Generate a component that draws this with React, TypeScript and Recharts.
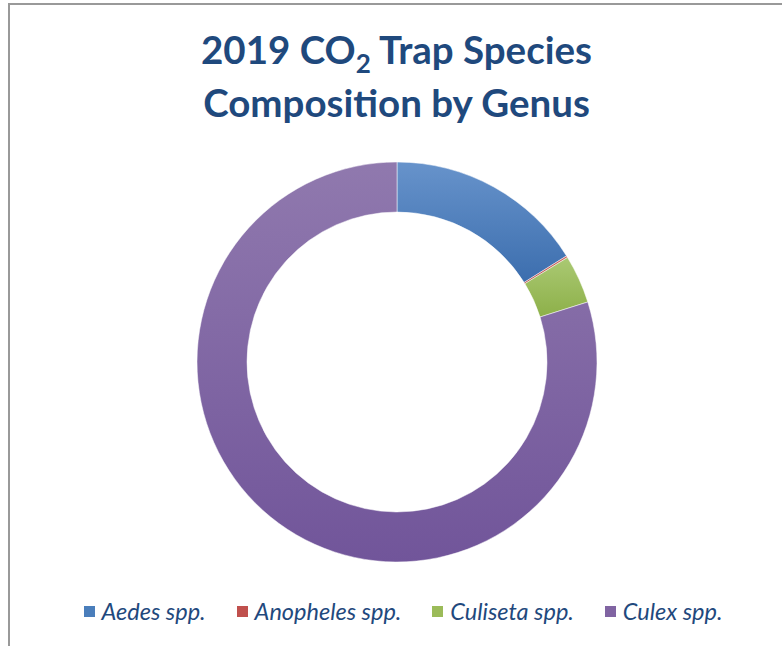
import { PieChart, Pie, Cell } from "recharts";

const GENERA = ["Aedes spp.", "Anopheles spp.", "Culiseta spp.", "Culex spp."];
const SHARES = [16.1, 0.15, 3.9, 79.85];
const COLORS = ["#4a7ebb", "#c0504d", "#9bbb59", "#8064a2"];
const LIGHT = ["#6793cb", "#d06a66", "#aac973", "#9079ae"];
const DARK = ["#3c6eae", "#b04440", "#8db049", "#71559a"];

const pieData = GENERA.map((name, i) => ({ name, value: SHARES[i] }));

const TITLE_COLOR = "#1f497d";

const App = () => {
  return (
    <div
      style={{
        position: "fixed",
        left: 8,
        top: 3,
        width: 790,
        height: 660,
        borderTop: "2px solid #999",
        borderLeft: "2px solid #999",
        background: "#fff",
        fontFamily: "Lato, sans-serif",
      }}
    >
      <div
        style={{
          position: "absolute",
          left: 0,
          width: 773,
          top: 18,
          textAlign: "center",
          color: TITLE_COLOR,
          fontWeight: 700,
          fontSize: 38.5,
          lineHeight: "53px",
        }}
      >
        <div>
          2019 CO<sub style={{ fontSize: 26, verticalAlign: -9, lineHeight: 0 }}>2</sub> Trap Species
        </div>
        <div>Composition by Genus</div>
      </div>
      <div style={{ position: "absolute", left: 0, top: 0 }}>
        <PieChart width={773} height={642}>
          <defs>
            {COLORS.map((c, i) => (
              <linearGradient key={c} id={`grad-${i}`} x1="0" y1="0" x2="0" y2="1">
                <stop offset="0%" stopColor={LIGHT[i]} />
                <stop offset="100%" stopColor={DARK[i]} />
              </linearGradient>
            ))}
          </defs>
          <Pie
            data={pieData}
            dataKey="value"
            nameKey="name"
            cx={382}
            cy={352}
            innerRadius={150}
            outerRadius={200}
            startAngle={90}
            endAngle={-270}
            stroke="#ffffff"
            strokeWidth={0.5}
            isAnimationActive={false}
          >
            {pieData.map((_, i) => (
              <Cell key={`cell-${i}`} fill={`url(#grad-${i})`} />
            ))}
          </Pie>
        </PieChart>
      </div>
      <div
        style={{
          position: "absolute",
          left: 0,
          width: 786,
          top: 592,
          display: "flex",
          justifyContent: "center",
          gap: 31,
          fontStyle: "italic",
          fontSize: 23.5,
          color: TITLE_COLOR,
        }}
      >
        {GENERA.map((g, i) => (
          <div key={g} style={{ display: "flex", alignItems: "center" }}>
            <span
              style={{
                display: "inline-block",
                width: 11,
                height: 11,
                marginRight: 7,
                background: COLORS[i],
              }}
            />
            <span>{g}</span>
          </div>
        ))}
      </div>
    </div>
  );
};

export default App;
